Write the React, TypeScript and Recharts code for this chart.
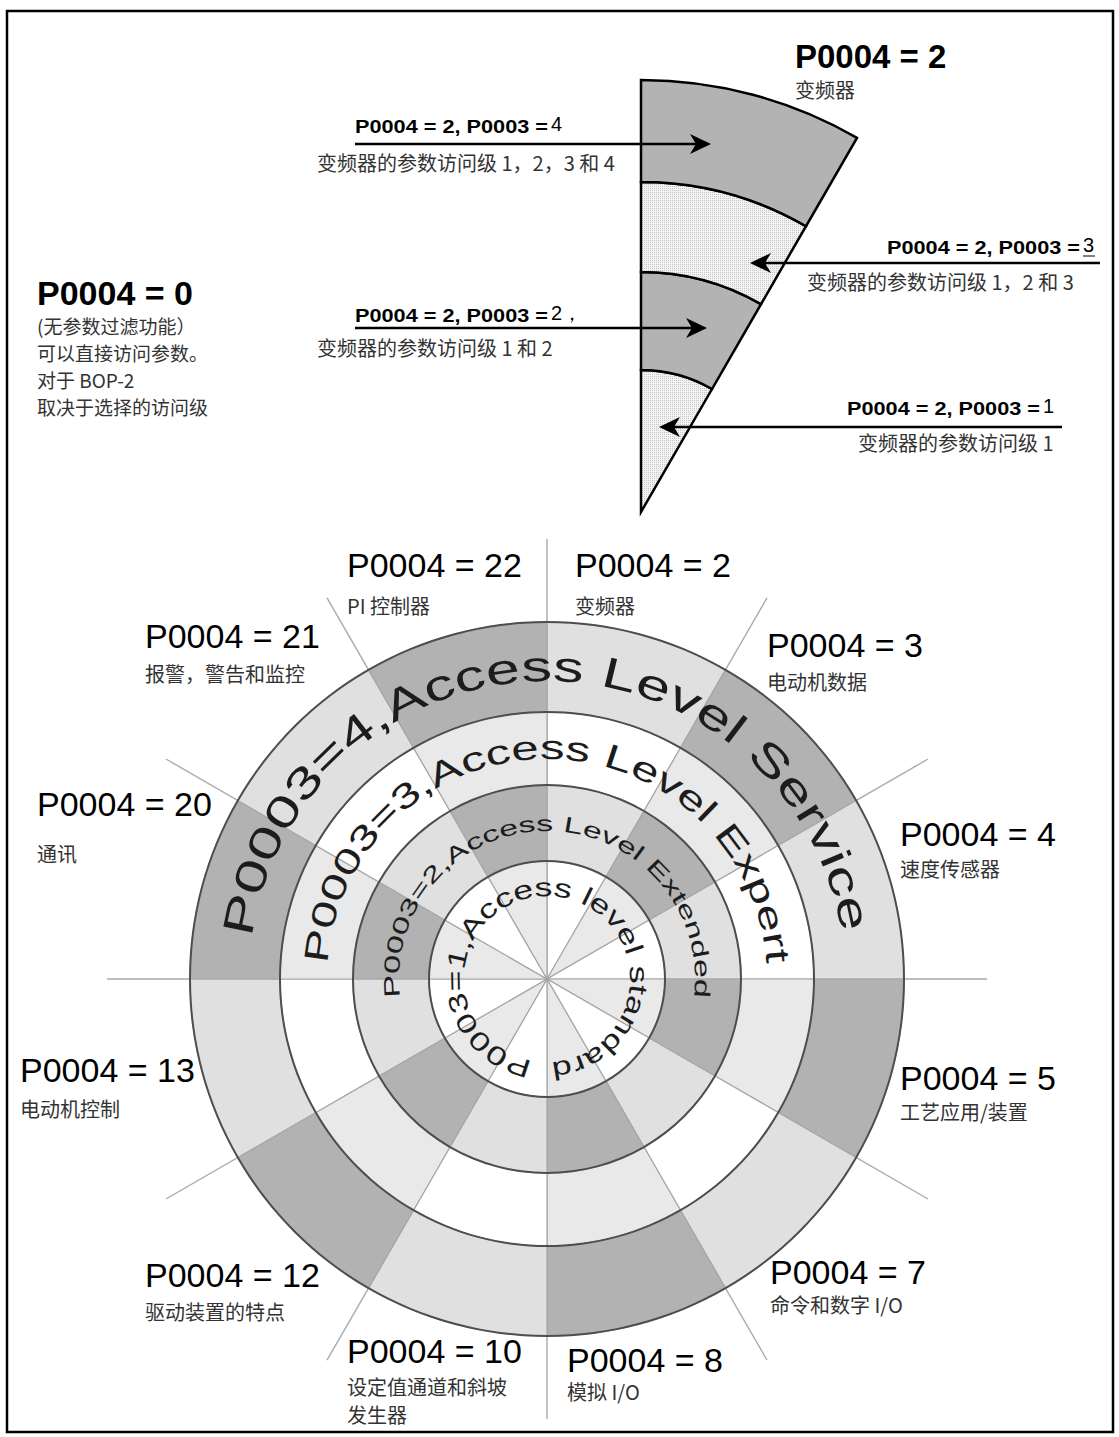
import React from "react";
import { PieChart, Pie, Cell, PolarGrid } from "recharts";

const W = 1119;
const H = 1437;

// P0004 parameter groups, clockwise starting at 12 o'clock
const groupIds = [2, 3, 4, 5, 7, 8, 10, 12, 13, 20, 21, 22];
const groupNames = [
  ["变频器"],
  ["电动机数据"],
  ["速度传感器"],
  ["工艺应用/装置"],
  ["命令和数字 I/O"],
  ["模拟 I/O"],
  ["设定值通道和斜坡", "发生器"],
  ["驱动装置的特点"],
  ["电动机控制"],
  ["通讯"],
  ["报警，警告和监控"],
  ["PI 控制器"],
];
const sectorDegrees = [30, 30, 30, 30, 30, 30, 30, 30, 30, 30, 30, 30];

// shade of every sector per access level ring: 0 white, 1 light, 2 dark
const shadeLevel1 = [0, 1, 0, 1, 0, 1, 0, 1, 0, 1, 0, 1];
const shadeLevel2 = [1, 2, 1, 2, 1, 2, 1, 2, 1, 2, 1, 2];
const shadeLevel3 = [0, 1, 0, 1, 0, 1, 0, 1, 0, 1, 0, 1];
const shadeLevel4 = [1, 2, 1, 2, 1, 2, 1, 2, 1, 2, 1, 2];

const levelTexts = [
  "P0003=1,Access level standard",
  "P0003=2,Access Level Extended",
  "P0003=3,Access Level Expert",
  "P0003=4,Access Level Service",
];

// wedge for P0004 = 2, rings from inside out (P0003 = 1..4)
const wedgeLevels = [1, 2, 3, 4];
const wedgeCaptions = [
  "变频器的参数访问级 1",
  "变频器的参数访问级 1 和 2",
  "变频器的参数访问级 1，2 和 3",
  "变频器的参数访问级 1，2，3 和 4",
];
const filterNotes = ["(无参数过滤功能）", "可以直接访问参数。", "对于 BOP-2", "取决于选择的访问级"];

// ---- layout ----
const CX = 547;
const CY = 979;
const ringR = [0, 118, 194, 267, 357];
const SPOKE_R = 440;
const WX = 641;
const WY = 512;
const wedgeR = [0, 142, 240, 330, 432];

const ringShades = [
  ["#ffffff", "#e9e9e9", "#b2b2b2"],
  ["#ffffff", "#e0e0e0", "#b2b2b2"],
  ["#ffffff", "#e9e9e9", "#b2b2b2"],
  ["#ffffff", "#e0e0e0", "#b2b2b2"],
];

// [x, title baseline, caption baseline] for each group, same order as groupIds
const labelPos = [
  [575, 577, 614],
  [767, 657, 690],
  [900, 846, 877],
  [900, 1090, 1120],
  [770, 1284, 1313],
  [567, 1372, 1400],
  [347, 1363, 1395],
  [145, 1287, 1320],
  [20, 1082, 1117],
  [37, 816, 862],
  [145, 648, 682],
  [347, 577, 614],
];

// curved ring captions: baseline radius, start/end angle (deg clockwise from top), font size
const curvedPos = [
  { r: 83, a0: 190, a1: 537, size: 26 },
  { r: 148, a0: -97, a1: 97, size: 22 },
  { r: 220, a0: -86, a1: 86, size: 34 },
  { r: 298, a0: -82, a1: 81, size: 43 },
];

// arrows of the wedge: line y, tail x, tip x, label x, label baseline, caption x, caption baseline
const arrowPos = [
  { y: 427, from: 1062, to: 659, lx: 847, ly: 415, cx: 858, cy: 451 },
  { y: 328, from: 355, to: 707, lx: 355, ly: 322, cx: 317, cy: 356 },
  { y: 263, from: 1100, to: 750, lx: 887, ly: 254, cx: 807, cy: 290 },
  { y: 144, from: 355, to: 711, lx: 355, ly: 133, cx: 317, cy: 171 },
];

const LATIN = "'Liberation Sans', Arial, sans-serif";
const CJK = "'Noto Sans CJK SC', 'Noto Sans', sans-serif";

function arcPath(r: number, a0: number, a1: number) {
  const pt = (a: number) => {
    const t = (a * Math.PI) / 180;
    return [CX + r * Math.sin(t), CY - r * Math.cos(t)];
  };
  const [x0, y0] = pt(a0);
  const [x1, y1] = pt(a1 + 4);
  const large = a1 + 4 - a0 > 180 ? 1 : 0;
  return `M${x0},${y0} A${r},${r} 0 ${large} 1 ${x1},${y1}`;
}

function Arrow({ y, from, to }: { y: number; from: number; to: number }) {
  const d = to > from ? 1 : -1;
  return (
    <g>
      <line x1={from} y1={y} x2={to - d * 6} y2={y} stroke="#000" strokeWidth={2.5} />
      <path
        d={`M${to},${y} L${to - d * 21},${y - 10} L${to - d * 15},${y} L${to - d * 21},${y + 10} Z`}
        fill="#000"
      />
    </g>
  );
}

export default function App() {
  const rings = [shadeLevel1, shadeLevel2, shadeLevel3, shadeLevel4];
  const sectors = groupIds.map((id, i) => ({ name: `P0004=${id}`, value: sectorDegrees[i] }));
  const spokeAngles = groupIds.map((_, i) => 90 - i * 30);

  return (
    <div style={{ position: "absolute", left: 0, top: 0, width: W, height: H, background: "#fff" }}>
      <svg width={0} height={0} style={{ position: "absolute" }}>
        <defs>
          <pattern id="dots" width="2" height="2" patternUnits="userSpaceOnUse">
            <rect width="2" height="2" fill="#f3f3f3" />
            <rect width="1" height="1" fill="#c6c6c6" />
          </pattern>
        </defs>
      </svg>

      <div style={{ position: "absolute", left: 0, top: 0 }}>
        <PieChart
          width={W}
          height={H}
          cx={CX}
          cy={CY}
          innerRadius={0}
          outerRadius={SPOKE_R}
          margin={{ top: 0, right: 0, bottom: 0, left: 0 }}
        >
          {wedgeLevels.map((lvl, k) => (
            <Pie
              key={`w${lvl}`}
              data={[{ name: `P0003=${lvl}`, value: 1 }]}
              dataKey="value"
              cx={WX}
              cy={WY}
              innerRadius={wedgeR[k]}
              outerRadius={wedgeR[k + 1]}
              startAngle={90}
              endAngle={60}
              stroke="#000"
              strokeWidth={2.5}
              isAnimationActive={false}
            >
              <Cell fill={k % 2 === 0 ? "url(#dots)" : "#b3b3b3"} />
            </Pie>
          ))}

          {rings.map((shades, k) => (
            <Pie
              key={`r${k}`}
              data={sectors}
              dataKey="value"
              cx={CX}
              cy={CY}
              innerRadius={ringR[k]}
              outerRadius={ringR[k + 1]}
              startAngle={90}
              endAngle={-270}
              stroke="#a6a6a6"
              strokeWidth={1.2}
              isAnimationActive={false}
            >
              {shades.map((s, i) => (
                <Cell key={i} fill={ringShades[k][s]} />
              ))}
            </Pie>
          ))}

          <PolarGrid
            gridType="circle"
            radialLines
            polarAngles={spokeAngles}
            polarRadius={[]}
            stroke="#aaaaaa"
            strokeWidth={1.4}
          />

          {ringR.slice(1).map((r) => (
            <Pie
              key={`o${r}`}
              data={[{ name: "ring", value: 1 }]}
              dataKey="value"
              cx={CX}
              cy={CY}
              innerRadius={r - 1}
              outerRadius={r + 1}
              startAngle={90}
              endAngle={-270}
              stroke="none"
              fill="#4e4e4e"
              isAnimationActive={false}
            />
          ))}
        </PieChart>
      </div>

      <svg
        width={W}
        height={H}
        style={{ position: "absolute", left: 0, top: 0 }}
      >
        <rect x={7} y={11} width={1106} height={1421} fill="none" stroke="#000" strokeWidth={2.5} />

        <defs>
          {curvedPos.map((c, k) => (
            <path key={k} id={`lvl${k}`} d={arcPath(c.r, c.a0, c.a1)} />
          ))}
        </defs>
        {curvedPos.map((c, k) => (
          <text key={k} fontFamily={LATIN} fontSize={c.size} fill="#1c1c1c">
            <textPath
              href={`#lvl${k}`}
              textLength={(c.r * (c.a1 - c.a0) * Math.PI) / 180}
              lengthAdjust="spacingAndGlyphs"
            >
              {levelTexts[k]}
            </textPath>
          </text>
        ))}

        {groupIds.map((id, i) => {
          const [x, ty, cy] = labelPos[i];
          return (
            <g key={id}>
              <text x={x} y={ty} fontFamily={LATIN} fontSize={34} fill="#000">
                {`P0004 = ${id}`}
              </text>
              {groupNames[i].map((line, j) => (
                <text key={j} x={x} y={cy + j * 28} fontFamily={CJK} fontSize={20} fill="#333">
                  {line}
                </text>
              ))}
            </g>
          );
        })}

        <text x={795} y={68} fontFamily={LATIN} fontSize={33} fontWeight="bold">P0004 = 2</text>
        <text x={795} y={98} fontFamily={CJK} fontSize={20} fill="#333">变频器</text>

        <text x={37} y={305} fontFamily={LATIN} fontSize={34} fontWeight="bold">P0004 = 0</text>
        {filterNotes.map((t, j) => (
          <text key={j} x={37} y={334 + j * 27} fontFamily={CJK} fontSize={19} fill="#333">
            {t}
          </text>
        ))}

        {wedgeLevels.map((lvl, k) => {
          const a = arrowPos[k];
          const tail = lvl === 2 ? "2，" : String(lvl);
          return (
            <g key={lvl}>
              <Arrow y={a.y} from={a.from} to={a.to} />
              <text x={a.lx} y={a.ly} fontFamily={LATIN} fontSize={18} fontWeight="bold" textLength={193} lengthAdjust="spacingAndGlyphs">
                P0004 = 2, P0003 =
              </text>
              <text x={a.lx + 196} y={a.ly - 2} fontFamily={LATIN} fontSize={20}>
                {tail}
              </text>
              {lvl === 3 && (
                <line x1={a.lx + 196} x2={a.lx + 208} y1={a.ly + 2} y2={a.ly + 2} stroke="#000" strokeWidth={1} />
              )}
              <text x={a.cx} y={a.cy} fontFamily={CJK} fontSize={20} fill="#333">
                {wedgeCaptions[k]}
              </text>
            </g>
          );
        })}
      </svg>
    </div>
  );
}
